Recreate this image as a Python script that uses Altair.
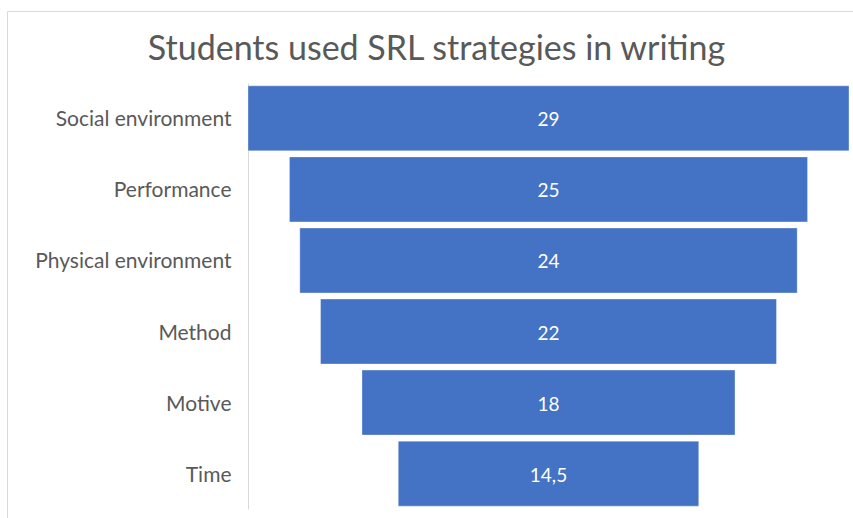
import altair as alt
import pandas as pd

categories = ["Social environment", "Performance", "Physical environment", "Method", "Motive", "Time"]
values = [29, 25, 24, 22, 18, 14.5]

df = pd.DataFrame({"category": categories, "value": values})

FONT = "Lato"
W, H = 601, 426

base = alt.Chart(df).transform_calculate(
    lo="-datum.value / 2",
    hi="datum.value / 2",
    mid="0",
    lbl="replace(toString(datum.value), '.', ',')",
)

ysc = alt.Scale(paddingInner=0.085, paddingOuter=0.04)
yenc = alt.Y(
    "category:N",
    sort=categories,
    scale=ysc,
    title=None,
    axis=alt.Axis(
        domainColor="#d9d9d9",
        domainWidth=1,
        ticks=False,
        grid=False,
        labelFont=FONT,
        labelFontSize=21,
        labelColor="#595959",
        labelPadding=17,
        labelLimit=400,
        labelOffset=2,
    ),
)
xsc = alt.Scale(domain=[-14.5, 14.5], nice=False, zero=False)

bars = base.mark_bar(color="#4472C4", stroke="#ffffff", strokeOpacity=0.35, strokeWidth=1).encode(
    x=alt.X("lo:Q", scale=xsc, axis=None),
    x2="hi:Q",
    y=yenc,
)

texts = base.mark_text(color="white", font=FONT, fontSize=19, dy=2).encode(
    x=alt.X("mid:Q", scale=xsc, axis=None),
    y=yenc,
    text="lbl:N",
)

frame = alt.Chart(pd.DataFrame({"a": [0]})).mark_rect(
    fill=None, stroke="#d9d9d9", strokeWidth=1
).encode(
    x=alt.value(-240.5),
    x2=alt.value(700),
    y=alt.value(-71.5),
    y2=alt.value(600),
)

chart = alt.layer(frame, bars, texts).properties(
    width=W,
    height=H,
    background="white",
    title=alt.TitleParams(
        "Students used SRL strategies in writing",
        font=FONT,
        fontSize=34,
        fontWeight="normal",
        color="#595959",
        anchor="middle",
        frame="group",
        dx=-112,
        offset=-56,
    ),
    autosize=alt.AutoSizeParams(type="none"),
    padding={"left": 248, "top": 83, "right": 4, "bottom": 9},
).configure_view(stroke="transparent", strokeWidth=0)

chart.save("out.html", embed_options={"renderer": "svg", "actions": False})
